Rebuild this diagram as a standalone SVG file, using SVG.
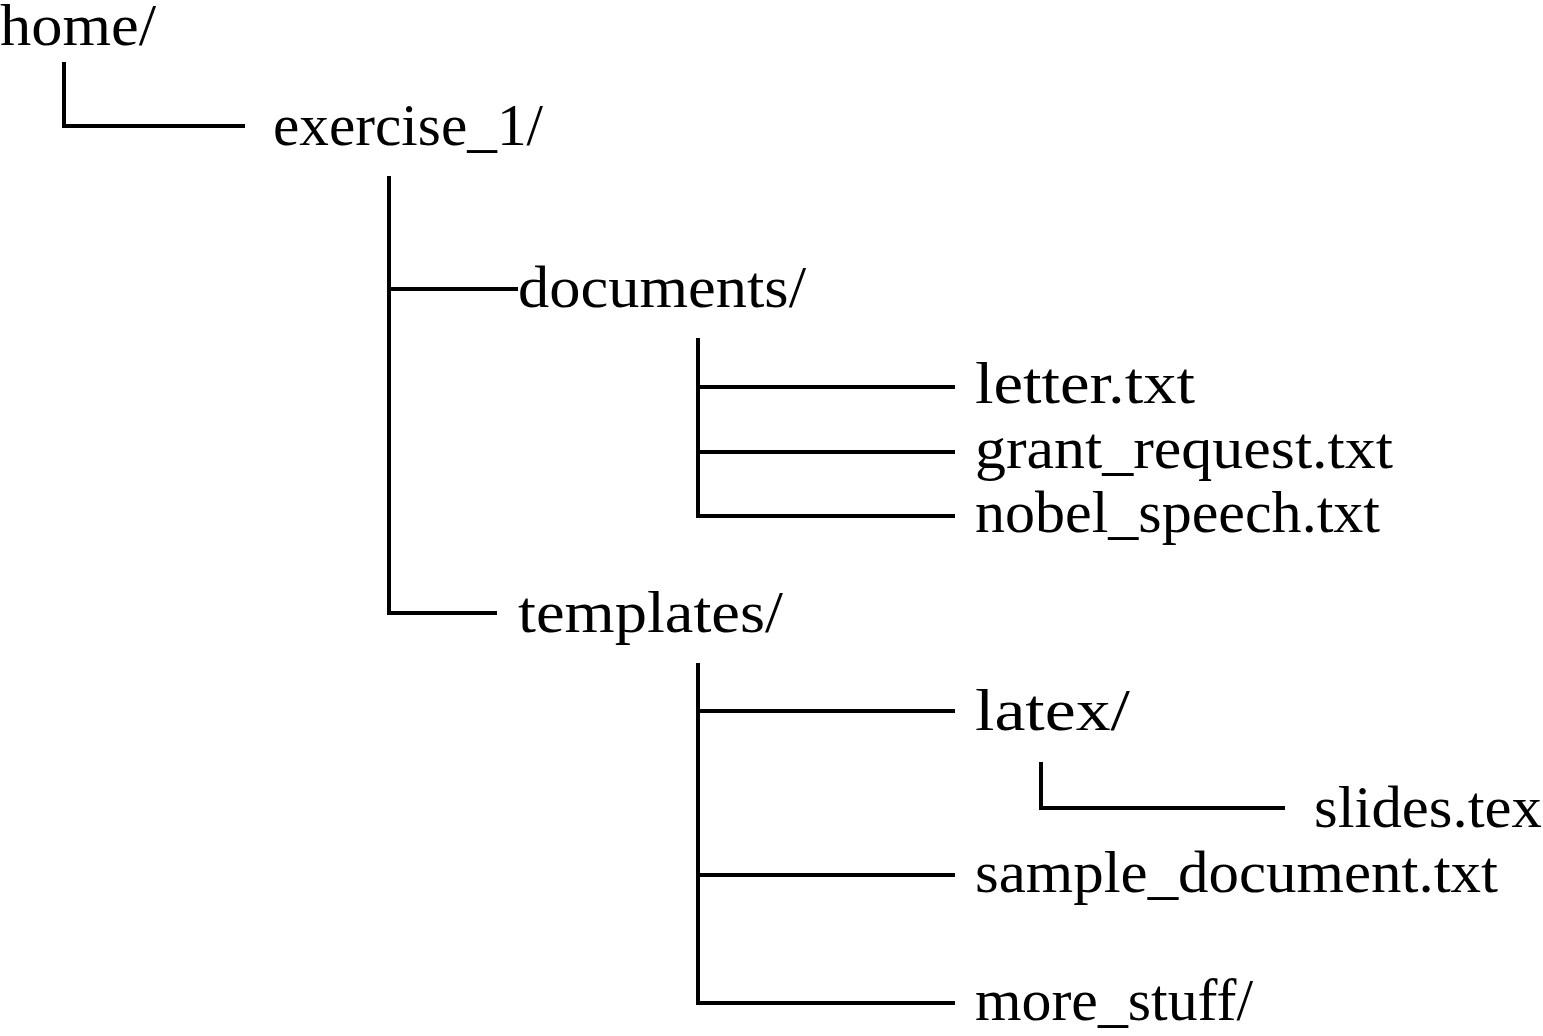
<svg xmlns="http://www.w3.org/2000/svg" width="1543" height="1036" viewBox="0 0 1543 1036">
<style>
text { font-family: "Liberation Serif", "Times New Roman", serif; font-size: 59px; fill: #000; }
.c path { fill: none; stroke: #000; stroke-width: 4; stroke-linejoin: miter; }
</style>
<rect width="1543" height="1036" fill="#fff"/>
<g class="c" id="connectors">
<path d="M64 62 V126 H245"/>
<path d="M389 176 V613 H497"/>
<path d="M389 289 H518"/>
<path d="M698 338 V516 H955"/>
<path d="M698 387 H955"/>
<path d="M698 452 H955"/>
<path d="M698 663 V1003 H955"/>
<path d="M698 711 H955"/>
<path d="M698 875 H955"/>
<path d="M1041 762 V808 H1285"/>
</g>
<g id="home"><text x="0" y="45" textLength="156" lengthAdjust="spacingAndGlyphs">home/</text></g>
<g id="exercise_1"><text x="273" y="145" textLength="270" lengthAdjust="spacingAndGlyphs">exercise_1/</text></g>
<g id="documents"><text x="518" y="307" textLength="288" lengthAdjust="spacingAndGlyphs">documents/</text></g>
<g id="letter"><text x="975" y="403" textLength="220" lengthAdjust="spacingAndGlyphs">letter.txt</text></g>
<g id="grant_request"><text x="975" y="468" textLength="418" lengthAdjust="spacingAndGlyphs">grant_request.txt</text></g>
<g id="nobel_speech"><text x="975" y="532" textLength="405" lengthAdjust="spacingAndGlyphs">nobel_speech.txt</text></g>
<g id="templates"><text x="518" y="632" textLength="265" lengthAdjust="spacingAndGlyphs">templates/</text></g>
<g id="latex"><text x="975" y="730" textLength="155" lengthAdjust="spacingAndGlyphs">latex/</text></g>
<g id="slides"><text x="1314" y="827" textLength="228" lengthAdjust="spacingAndGlyphs">slides.tex</text></g>
<g id="sample_document"><text x="975" y="892" textLength="523" lengthAdjust="spacingAndGlyphs">sample_document.txt</text></g>
<g id="more_stuff"><text x="975" y="1020" textLength="278" lengthAdjust="spacingAndGlyphs">more_stuff/</text></g>
</svg>
